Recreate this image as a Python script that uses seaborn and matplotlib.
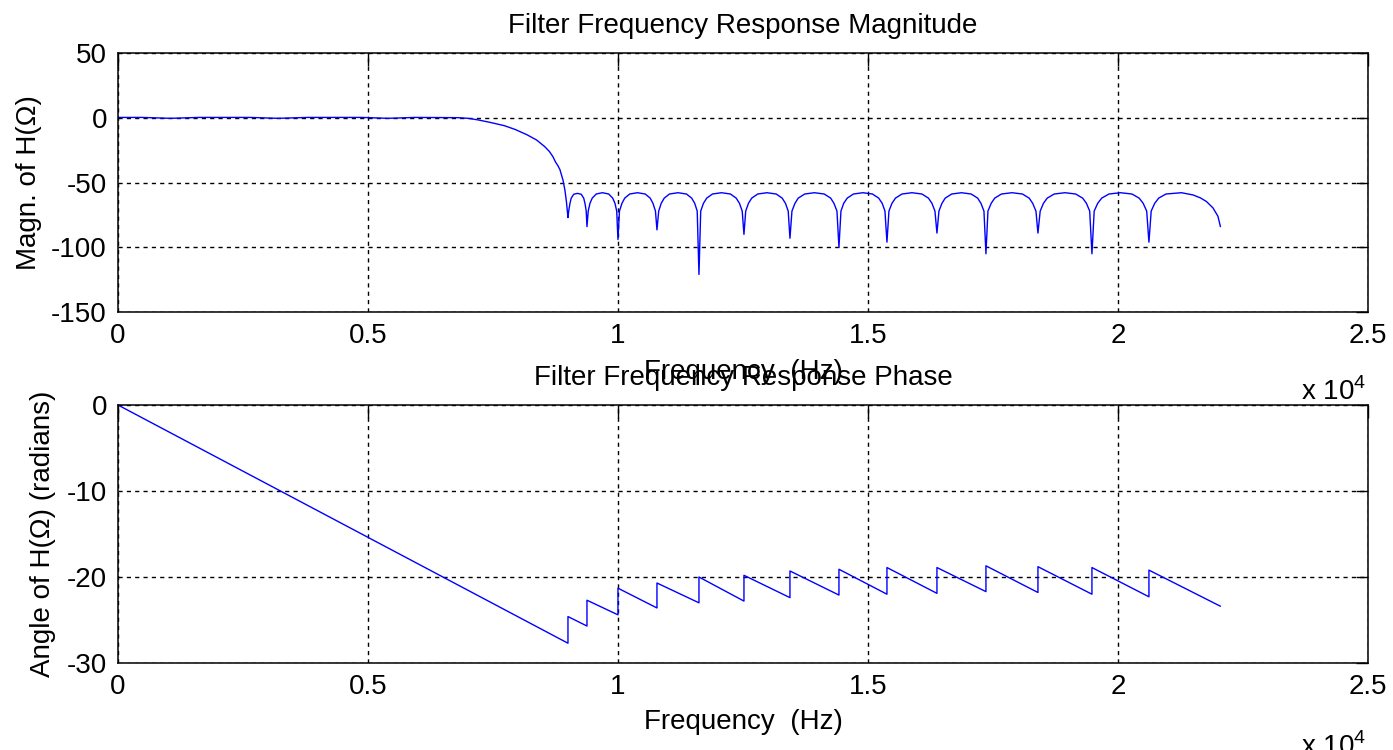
# Filter frequency response (magnitude + phase), MATLAB-style layout.

import pandas as pd
import matplotlib
matplotlib.use('Agg')
import matplotlib.pyplot as plt
import seaborn as sns

# Magnitude response in dB, frequencies in Hz.
mag_freq = [0, 480, 1050, 1620, 2640, 3200, 3800, 4880, 5400, 5940, 6800,
            7000, 7200, 7450, 7730, 7950, 8180, 8370, 8530, 8630, 8700, 8750,
            8800, 8840, 8870, 8900, 8940, 8970, 9000,
            9015, 9040, 9065, 9115, 9190, 9265, 9315, 9340, 9365, 9380,
            9405, 9440, 9485, 9565, 9690, 9815, 9895, 9940, 9975, 10000,
            10030, 10080, 10135, 10235, 10390, 10545, 10645, 10700, 10750, 10780,
            10815, 10865, 10925, 11030, 11200, 11370, 11475, 11535, 11585, 11620,
            11655, 11710, 11775, 11890, 12070, 12250, 12365, 12430, 12485, 12520,
            12555, 12610, 12675, 12795, 12980, 13165, 13285, 13350, 13405, 13440,
            13480, 13540, 13605, 13735, 13930, 14125, 14255, 14320, 14380, 14420,
            14460, 14515, 14585, 14710, 14900, 15090, 15215, 15285, 15340, 15380,
            15420, 15480, 15550, 15680, 15880, 16080, 16210, 16280, 16340, 16380,
            16420, 16480, 16545, 16675, 16870, 17065, 17195, 17260, 17320, 17360,
            17400, 17465, 17535, 17670, 17880, 18090, 18225, 18295, 18360, 18400,
            18445, 18510, 18585, 18725, 18940, 19155, 19295, 19370, 19435, 19480,
            19525, 19595, 19675, 19820, 20050, 20280, 20425, 20505, 20575, 20620,
            20665, 20735, 20815, 20960, 21270, 21500, 21650, 21770, 21900, 22000, 22050]
mag_db = [0.4, 0.4, -0.3, 0.4, 0.4, -0.3, 0.4, 0.4, -0.3, 0.4, 0.2,
          -0.3, -1.5, -3.5, -6, -9, -13, -17, -22, -26, -30, -34,
          -37, -40, -44, -48, -56, -65, -77,
          -72, -66, -62, -59, -58.3, -59, -62, -66, -72, -84,
          -72, -66, -62, -58.8, -57.8, -58.8, -62, -66, -72, -94,
          -72, -66, -62, -58.8, -57.8, -58.8, -62, -66, -72, -86.5,
          -72, -66, -62, -58.8, -57.8, -58.8, -62, -66, -72, -121,
          -72, -66, -62, -58.8, -57.8, -58.8, -62, -66, -72, -90,
          -72, -66, -62, -58.8, -57.8, -58.8, -62, -66, -72, -93,
          -72, -66, -62, -58.8, -57.8, -58.8, -62, -66, -72, -100,
          -72, -66, -62, -58.8, -57.8, -58.8, -62, -66, -72, -96,
          -72, -66, -62, -58.8, -57.8, -58.8, -62, -66, -72, -89,
          -72, -66, -62, -58.8, -57.8, -58.8, -62, -66, -72, -105,
          -72, -66, -62, -58.8, -57.8, -58.8, -62, -66, -72, -89,
          -72, -66, -62, -58.8, -57.8, -58.8, -62, -66, -72, -105,
          -72, -66, -62, -58.8, -57.8, -58.8, -62, -66, -72, -96,
          -72, -66, -62, -58.8, -57.8, -59.5, -61.8, -64.6, -69.5, -76, -84]

# Phase response in radians (piecewise linear, jumps at the zeros).
phase_freq = [0, 9000, 9000, 9380, 9380, 10000, 10000, 10780, 10780,
              11620, 11620, 12520, 12520, 13440, 13440, 14420, 14420,
              15380, 15380, 16380, 16380, 17360, 17360, 18400, 18400,
              19480, 19480, 20620, 20620, 22050]
phase_rad = [0, -27.7, -24.6, -25.7, -22.7, -24.4, -21.3, -23.6, -20.7,
             -23.0, -20.0, -22.8, -19.8, -22.4, -19.3, -22.1, -19.1,
             -22.0, -18.9, -21.9, -18.9, -21.7, -18.7, -21.8, -18.8,
             -22.0, -18.9, -22.3, -19.2, -23.4]

x_ticks = [0, 5000, 10000, 15000, 20000, 25000]
x_tick_labels = ['0', '0.5', '1', '1.5', '2', '2.5']
mag_ticks = [-150, -100, -50, 0, 50]
phase_ticks = [-30, -20, -10, 0]

sns.set_style('white')
plt.rcParams['font.family'] = ['Liberation Sans', 'DejaVu Sans']
plt.rcParams['mathtext.fontset'] = 'custom'
plt.rcParams['mathtext.rm'] = 'Liberation Sans'
plt.rcParams['font.size'] = 20
plt.rcParams['axes.unicode_minus'] = False
plt.rcParams['text.color'] = 'black'
plt.rcParams['axes.labelcolor'] = 'black'

fig = plt.figure(figsize=(13.93, 7.5), dpi=100)
ax1 = fig.add_axes([0.0847, 0.584, 0.8973, 0.345])
ax2 = fig.add_axes([0.0847, 0.116, 0.8973, 0.344])

mag = pd.DataFrame({'freq': mag_freq, 'db': mag_db})
phase = pd.DataFrame({'freq': phase_freq, 'rad': phase_rad})

sns.lineplot(data=mag, x='freq', y='db', ax=ax1, color='#0000ff', linewidth=1,
             estimator=None, sort=False)
sns.lineplot(data=phase, x='freq', y='rad', ax=ax2, color='#0000ff', linewidth=1,
             estimator=None, sort=False)

ax1.set_ylim(-150, 50)
ax1.set_yticks(mag_ticks)
ax2.set_ylim(-30, 0)
ax2.set_yticks(phase_ticks)

ax1.set_title('Filter Frequency Response Magnitude', pad=14.4, fontsize=20, color='black')
ax2.set_title('Filter Frequency Response Phase', pad=14.4, fontsize=20, color='black')
ax1.set_ylabel('Magn. of H(Ω)', fontsize=20)
ax2.set_ylabel('Angle of H(Ω) (radians)', fontsize=20)
ax1.yaxis.set_label_coords(-0.0608, 0.5)
ax2.yaxis.set_label_coords(-0.0496, 0.5)

for ax, ly in ((ax1, -0.181), (ax2, -0.178)):
    ax.set_xlim(0, 25000)
    ax.set_xticks(x_ticks)
    ax.set_xticklabels(x_tick_labels)
    ax.set_xlabel('Frequency  (Hz)', fontsize=20)
    ax.xaxis.set_label_coords(0.5, ly)
    ax.grid(True, color='black', linestyle=(0, (3, 3)), linewidth=1)
    ax.set_axisbelow(True)
    ax.tick_params(direction='in', length=9, width=1, top=True, right=True,
                   labelsize=20, pad=8, colors='black')
    for s in ax.spines.values():
        s.set_linewidth(1.1)
        s.set_color('black')

fig.text(0.9806, 1 - 400 / 750, r'x 10$^{4}$', ha='right', va='baseline', fontsize=20)
fig.text(0.9806, 1 - 755 / 750, r'x 10$^{4}$', ha='right', va='baseline', fontsize=20)

fig.savefig('out.png', dpi=100)
